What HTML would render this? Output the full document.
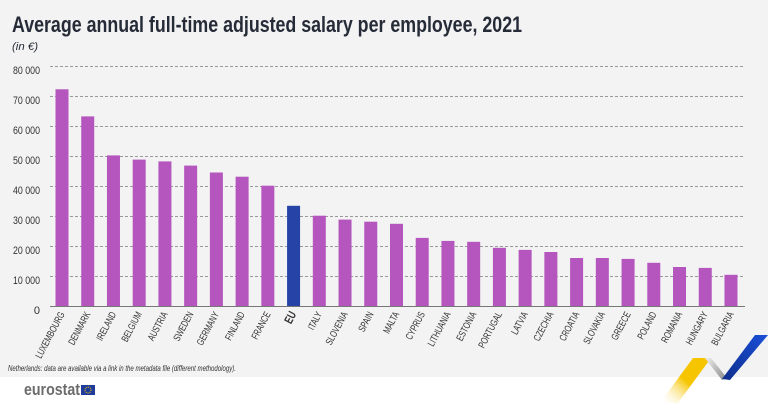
<!DOCTYPE html>
<html><head><meta charset="utf-8"><style>
body{margin:0;width:768px;height:403px;overflow:hidden;background:#fff}
</style></head><body>
<svg width="768" height="403" xmlns="http://www.w3.org/2000/svg" font-family="'Liberation Sans',sans-serif">
<rect x="0" y="0" width="768" height="377" fill="#f3f3f3"/>
<text x="12" y="32" font-size="22" font-weight="bold" fill="#262b38" textLength="510" lengthAdjust="spacingAndGlyphs">Average annual full-time adjusted salary per employee, 2021</text>
<text x="12" y="50" font-size="11" font-style="italic" fill="#262b38" textLength="26" lengthAdjust="spacingAndGlyphs">(in €)</text>
<g stroke="#999" stroke-dasharray="3,2" stroke-width="1">
<line x1="50" x2="745" y1="66.5" y2="66.5"/><line x1="50" x2="745" y1="96.5" y2="96.5"/><line x1="50" x2="745" y1="126.5" y2="126.5"/><line x1="50" x2="745" y1="156.5" y2="156.5"/><line x1="50" x2="745" y1="186.5" y2="186.5"/><line x1="50" x2="745" y1="216.5" y2="216.5"/><line x1="50" x2="745" y1="246.5" y2="246.5"/><line x1="50" x2="745" y1="276.5" y2="276.5"/>
</g>
<g font-size="11" fill="#333" text-anchor="end">
<text x="40" y="74" textLength="27" lengthAdjust="spacingAndGlyphs">80 000</text><text x="40" y="104" textLength="27" lengthAdjust="spacingAndGlyphs">70 000</text><text x="40" y="134" textLength="27" lengthAdjust="spacingAndGlyphs">60 000</text><text x="40" y="164" textLength="27" lengthAdjust="spacingAndGlyphs">50 000</text><text x="40" y="194" textLength="27" lengthAdjust="spacingAndGlyphs">40 000</text><text x="40" y="224" textLength="27" lengthAdjust="spacingAndGlyphs">30 000</text><text x="40" y="254" textLength="27" lengthAdjust="spacingAndGlyphs">20 000</text><text x="40" y="284" textLength="27" lengthAdjust="spacingAndGlyphs">10 000</text><text x="40" y="314">0</text>
</g>
<g id="bars"></g>
<line x1="50" x2="745" y1="306.5" y2="306.5" stroke="#777" stroke-width="1"/>
<g id="labels" font-size="10" fill="#333" text-anchor="end"></g>
<text x="8" y="371" font-size="8" font-style="italic" fill="#333" textLength="228" lengthAdjust="spacingAndGlyphs">Netherlands: data are available via a link in the metadata file (different methodology).</text>
<text x="24" y="395" font-size="17" font-weight="bold" fill="#6b6b6b" textLength="56" lengthAdjust="spacingAndGlyphs">eurostat</text>
<rect x="81" y="385" width="14" height="10" fill="#1f3b9b"/>
<circle cx="88" cy="390" r="3" fill="none" stroke="#f4d000" stroke-width="1" stroke-dasharray="1,1"/>
<defs><linearGradient id="yg" x1="0" y1="1" x2="1" y2="0"><stop offset="0" stop-color="#fff" stop-opacity="0"/><stop offset="0.5" stop-color="#f6c500"/></linearGradient>
<linearGradient id="gg" x1="0" y1="0" x2="1" y2="1"><stop offset="0" stop-color="#eee"/><stop offset="1" stop-color="#888"/></linearGradient>
<linearGradient id="bg" x1="0" y1="1" x2="1" y2="0"><stop offset="0" stop-color="#0f2f8c"/><stop offset="1" stop-color="#1a4fd8"/></linearGradient></defs>
<polygon points="660,403 693,358 711,358 678,403" fill="url(#yg)"/>
<polygon points="705,358 711,358 727,378 722,380" fill="url(#gg)"/>
<polygon points="722,379 755,335 768,335 730,380" fill="url(#bg)"/>
</svg>
<script>
var d=[["LUXEMBOURG",72240],["DENMARK",63200],["IRELAND",50200],["BELGIUM",48800],["AUSTRIA",48200],["SWEDEN",46800],["GERMANY",44500],["FINLAND",43100],["FRANCE",40100],["EU",33400],["ITALY",30100],["SLOVENIA",28800],["SPAIN",28100],["MALTA",27400],["CYPRUS",22700],["LITHUANIA",21700],["ESTONIA",21400],["PORTUGAL",19400],["LATVIA",18700],["CZECHIA",18000],["CROATIA",16000],["SLOVAKIA",16000],["GREECE",15700],["POLAND",14400],["ROMANIA",13000],["HUNGARY",12700],["BULGARIA",10400]];
var ns="http://www.w3.org/2000/svg",b=document.getElementById("bars"),l=document.getElementById("labels");
d.forEach(function(e,i){var cx=62+i*25.73,h=e[1]*0.003;var r=document.createElementNS(ns,"rect");r.setAttribute("x",cx-6.5);r.setAttribute("y",306-h);r.setAttribute("width",13);r.setAttribute("height",h);r.setAttribute("fill",e[0]=="EU"?"#2644a8":"#b456be");b.appendChild(r);
var t=document.createElementNS(ns,"text");t.setAttribute("transform","translate("+(cx+3)+",314) rotate(-62) scale(0.72,1)");t.textContent=e[0];if(e[0]=="EU"){t.setAttribute("font-weight","bold");t.setAttribute("font-size","12")}l.appendChild(t);});
</script>
</body></html>
